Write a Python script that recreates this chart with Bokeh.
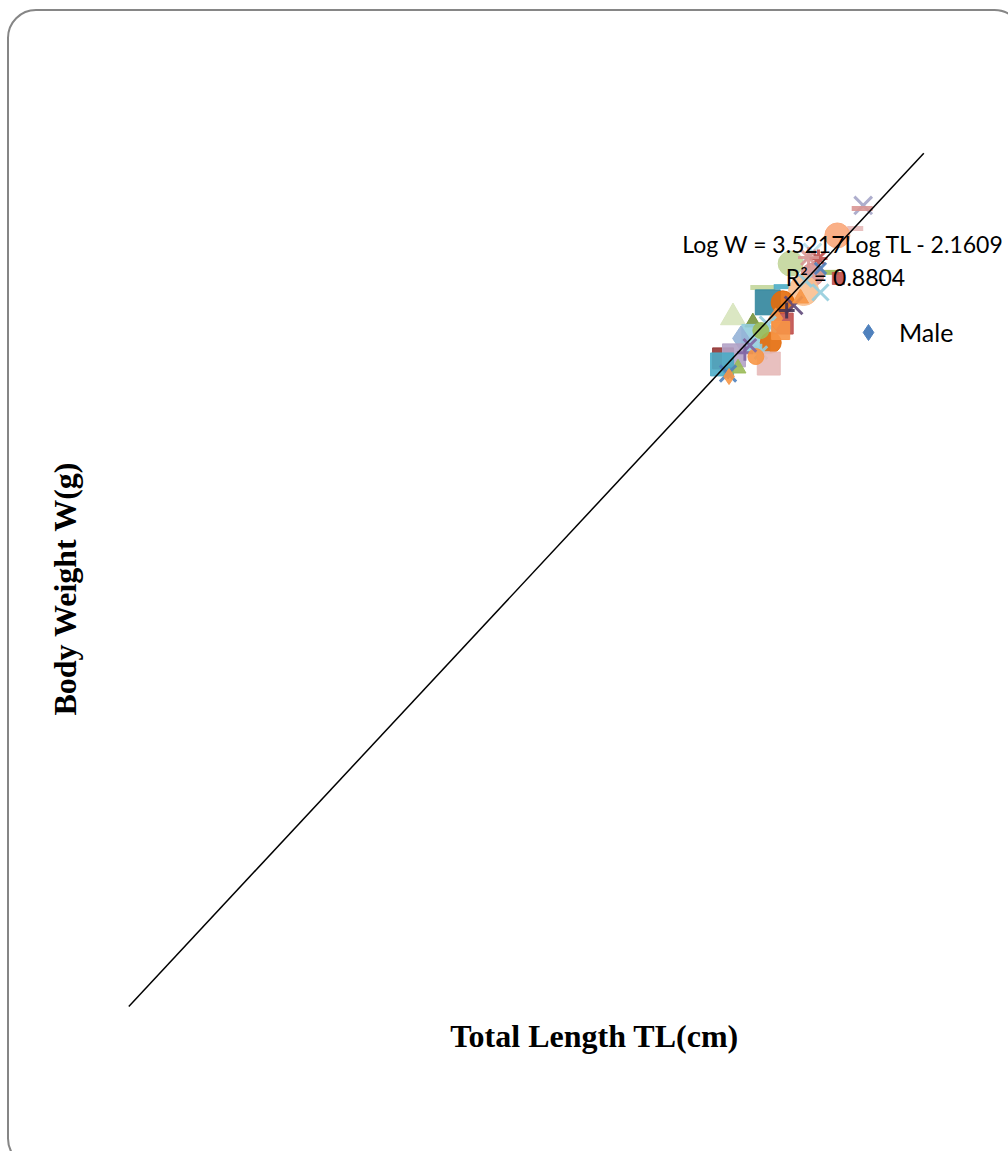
import math
from bokeh.plotting import figure
from bokeh.models import Range1d, BoxAnnotation, Legend, LegendItem, ColumnDataSource
from bokeh.embed import file_html
from bokeh.resources import INLINE
from bokeh.core.properties import value

# ---- data (log10 of total length in cm, log10 of body weight in g) ----
male_tl = [1.203]
male_w = [2.050]

log_tl = [1.339, 1.338, 1.331, 1.313, 1.288, 1.294, 1.266, 1.304, 1.288, 1.314,
          1.238, 1.257, 1.279, 1.296, 1.243, 1.258, 1.269, 1.208, 1.276, 1.258,
          1.251, 1.243, 1.228, 1.231, 1.246, 1.216, 1.236, 1.198, 1.209, 1.197,
          1.244, 1.213, 1.203, 1.220, 1.231, 1.204, 1.225, 1.284, 1.296, 1.262,
          1.281, 1.236, 1.256]
log_w = [2.597, 2.587, 2.521, 2.498, 2.442, 2.422, 2.405, 2.376, 2.369, 2.356,
         2.326, 2.329, 2.316, 2.310, 2.277, 2.277, 2.267, 2.227, 2.290, 2.207,
         2.224, 2.204, 2.211, 2.158, 2.144, 2.158, 2.111, 2.092, 2.102, 2.072,
         2.075, 2.059, 2.042, 2.111, 2.098, 2.032, 2.135, 2.425, 2.389, 2.250,
         2.349, 2.184, 2.184]

markers = ["x", "dash", "dash", "circle", "x", "asterisk", "circle", "dash", "circle", "square",
           "dash", "dash", "circle", "x", "square", "circle", "x", "triangle", "triangle", "square",
           "diamond", "x", "triangle", "square", "circle", "diamond", "asterisk", "square", "square", "square",
           "square", "triangle", "x", "cross", "circle", "diamond", "x", "asterisk", "x", "cross",
           "x", "circle", "square"]
colors = ["#A5A5C8", "#D99694", "#E6B9B8", "#F9A77A", "#B7DEE8", "#C0504D", "#C3D69B", "#9BBB59", "#D99694", "#C0504D",
          "#C3D69B", "#4BACC6", "#FAC090", "#93CDDD", "#31859C", "#E46C0A", "#5F497A", "#D7E4BD", "#F79646", "#C0504D",
          "#F79646", "#93CDDD", "#77933C", "#93CDDD", "#E46C0A", "#95B3D7", "#93CDDD", "#953735", "#B3A2C7", "#4BACC6",
          "#E6B9B8", "#9BBB59", "#4F81BD", "#8064A2", "#F79646", "#F79646", "#8064A2", "#D99694", "#4F81BD", "#403152",
          "#93CDDD", "#9BBB59", "#F79646"]
sizes = [25, 21, 16, 25, 25, 18, 25, 21, 23, 12,
         25, 16, 30, 23, 25, 23, 25, 25, 16, 21,
         21, 23, 16, 28, 21, 25, 18, 21, 23, 23,
         23, 16, 23, 16, 16, 16, 18, 21, 16, 16,
         18, 16, 18]

slope = 3.5217
intercept = -2.1609
r_squared = 0.8804
trend_x = [0.6, 1.4]
trend_y = [slope * v + intercept for v in trend_x]
series_name = "Male"

# ---- layout ----
W, H = 1008, 1151
X0, X1 = 0.47089, 1.48523
Y0, Y1 = -0.52665, 3.27366


def sx(xp):  # picture pixel -> data x
    return X0 + xp * (X1 - X0) / W


def sy(yp):  # picture pixel -> data y
    return Y1 - yp * (Y1 - Y0) / H


p = figure(width=W, height=H, x_range=Range1d(X0, X1), y_range=Range1d(Y0, Y1),
           x_axis_type=None, y_axis_type=None, output_backend="svg",
           toolbar_location=None, min_border=0, outline_line_color=None,
           background_fill_color="white", border_fill_color="white")

# rounded chart border
p.add_layout(BoxAnnotation(left=sx(7.5), right=sx(1022), top=sy(9.5), bottom=sy(1166),
                           fill_alpha=0, line_color="#868686", line_alpha=1, line_width=2,
                           border_radius=28, level="underlay"))

male_r = p.scatter(male_tl, male_w, marker="diamond", size=16,
                   fill_color="#4F81BD", line_color="#4F81BD")

line_w = [5 if m == "dash" else 3 if m in ("x", "asterisk", "cross") else 1 for m in markers]
src = ColumnDataSource(dict(x=log_tl, y=log_w, marker=markers, color=colors,
                            size=sizes, lw=line_w))
p.scatter("x", "y", source=src, marker="marker", size="size", fill_color="color",
          line_color="color", line_width="lw", fill_alpha=0.9, line_alpha=0.9)

p.line(trend_x, trend_y, line_color="black", line_width=1.5)

# equation
p.text(x=[sx(843), sx(845)], y=[sy(243), sy(276)],
       text=[f"Log W = {slope}Log TL - {abs(intercept)}", f"R² = {r_squared}"],
       text_align="center", text_baseline="middle", text_font=value("Lato"),
       text_font_size="23px", text_color="black")

# axis titles
p.text(x=[sx(594)], y=[sy(1035)], text=["Total Length TL(cm)"], text_align="center",
       text_baseline="middle", text_font=value("Liberation Serif"), text_font_style="bold",
       text_font_size="32px", text_color="black")
p.text(x=[sx(64)], y=[sy(588)], text=["Body Weight W(g)"], text_align="center",
       text_baseline="middle", text_font=value("Liberation Serif"), text_font_style="bold",
       text_font_size="32px", text_color="black", angle=math.pi / 2)

# legend
legend = Legend(items=[LegendItem(label=series_name, renderers=[male_r])],
                location=(848, 799), border_line_color=None, background_fill_alpha=0,
                label_text_font="Lato", label_text_font_size="25px", label_text_color="black",
                glyph_width=40, glyph_height=40, label_standoff=11, padding=10, margin=0)
p.add_layout(legend)

open("out.html", "w").write(file_html(p, INLINE))
